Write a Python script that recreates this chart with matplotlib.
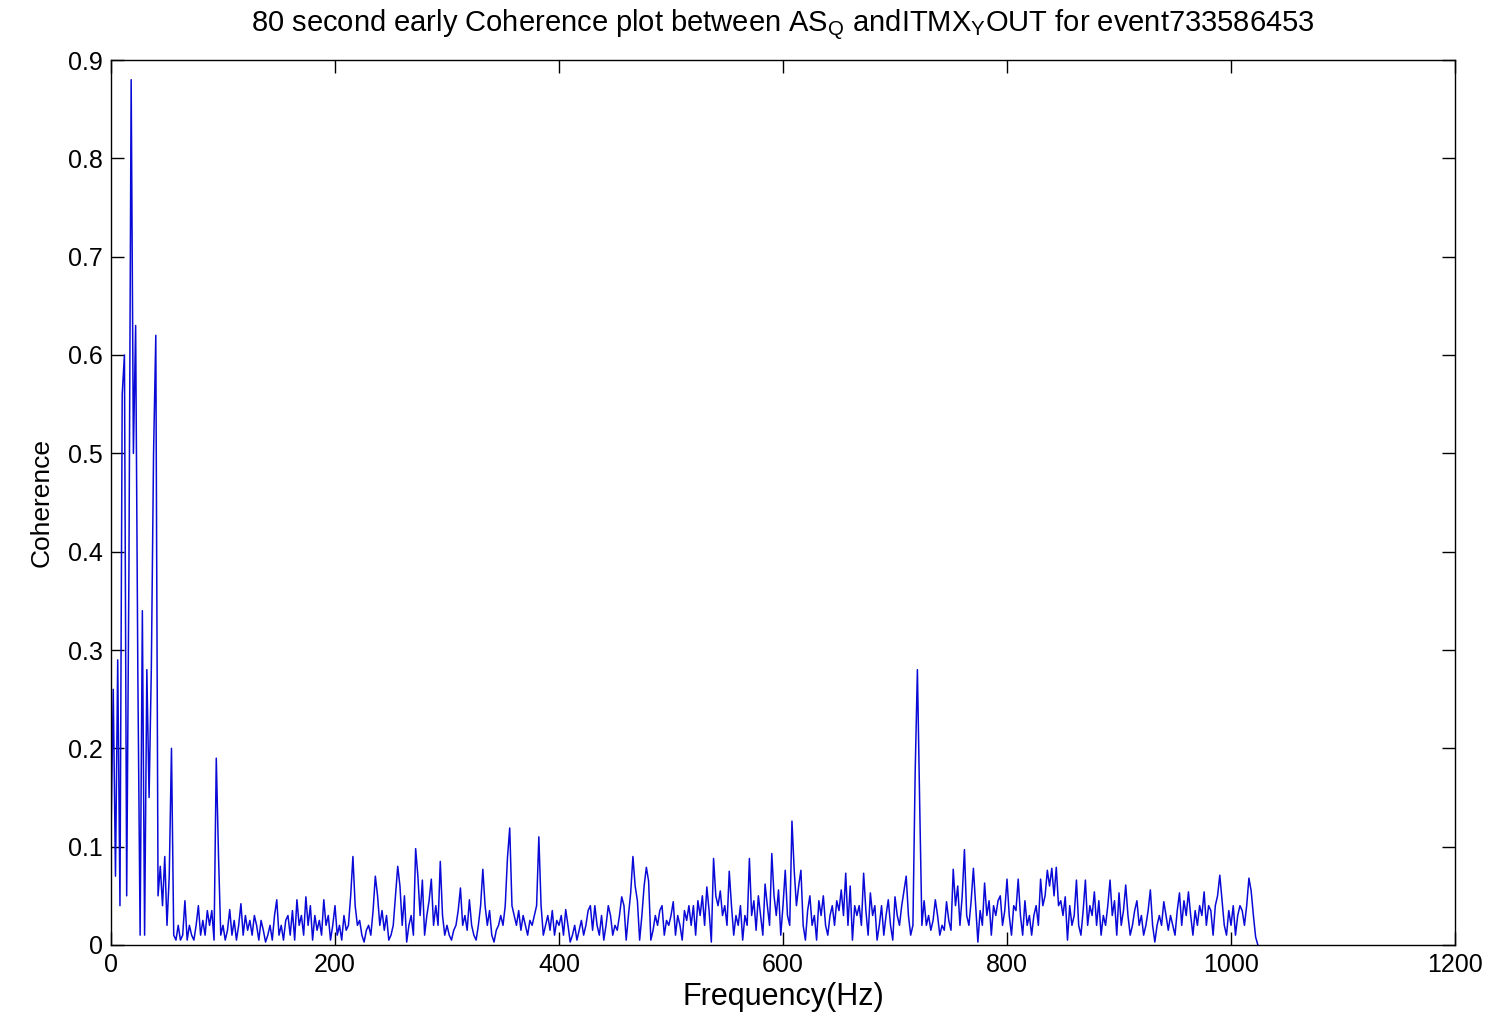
import numpy as np
import matplotlib
matplotlib.use("Agg")
import matplotlib.pyplot as plt

# coherence estimate on a 2 Hz grid, split into 100 Hz bands
band_000 = [0.11, 0.26, 0.07, 0.29, 0.04, 0.56, 0.60, 0.05, 0.38, 0.88,
            0.50, 0.63, 0.27, 0.01, 0.34, 0.01, 0.28, 0.15, 0.28, 0.50,
            0.62, 0.05, 0.08, 0.04, 0.09, 0.02, 0.07, 0.20, 0.01, 0.005,
            0.02, 0.005, 0.01, 0.045, 0.005, 0.02, 0.01, 0.005, 0.02, 0.04,
            0.01, 0.025, 0.01, 0.035, 0.02, 0.035, 0.005, 0.19, 0.09, 0.01]
band_100 = [0.02, 0.005, 0.015, 0.036, 0.01, 0.025, 0.005, 0.02, 0.042, 0.01,
            0.03, 0.015, 0.025, 0.01, 0.03, 0.02, 0.005, 0.025, 0.015, 0.003,
            0.01, 0.02, 0.005, 0.03, 0.046, 0.01, 0.02, 0.005, 0.025, 0.03,
            0.01, 0.035, 0.005, 0.046, 0.02, 0.03, 0.01, 0.049, 0.02, 0.04,
            0.005, 0.03, 0.015, 0.025, 0.01, 0.046, 0.02, 0.03, 0.005, 0.02]
band_200 = [0.04, 0.01, 0.02, 0.005, 0.03, 0.015, 0.02, 0.05, 0.09, 0.04,
            0.02, 0.025, 0.01, 0.003, 0.015, 0.02, 0.01, 0.035, 0.07, 0.05,
            0.02, 0.035, 0.015, 0.03, 0.005, 0.01, 0.02, 0.05, 0.08, 0.06,
            0.02, 0.05, 0.003, 0.02, 0.03, 0.01, 0.098, 0.07, 0.03, 0.066,
            0.01, 0.03, 0.045, 0.067, 0.02, 0.04, 0.02, 0.085, 0.03, 0.01]
band_300 = [0.02, 0.01, 0.005, 0.015, 0.02, 0.035, 0.058, 0.02, 0.03, 0.015,
            0.046, 0.02, 0.01, 0.005, 0.02, 0.04, 0.077, 0.04, 0.02, 0.035,
            0.01, 0.003, 0.015, 0.02, 0.03, 0.02, 0.04, 0.089, 0.119, 0.04,
            0.03, 0.02, 0.035, 0.015, 0.03, 0.02, 0.01, 0.025, 0.02, 0.03,
            0.04, 0.11, 0.04, 0.01, 0.02, 0.03, 0.015, 0.035, 0.01, 0.025]
band_400 = [0.02, 0.03, 0.01, 0.036, 0.02, 0.003, 0.01, 0.02, 0.005, 0.015,
            0.025, 0.01, 0.02, 0.035, 0.04, 0.015, 0.04, 0.02, 0.01, 0.03,
            0.005, 0.02, 0.04, 0.03, 0.01, 0.02, 0.015, 0.03, 0.049, 0.04,
            0.005, 0.03, 0.053, 0.09, 0.06, 0.045, 0.005, 0.03, 0.06, 0.079,
            0.065, 0.005, 0.015, 0.03, 0.02, 0.035, 0.04, 0.01, 0.025, 0.02]
band_500 = [0.03, 0.044, 0.01, 0.03, 0.02, 0.005, 0.035, 0.025, 0.04, 0.02,
            0.04, 0.01, 0.045, 0.03, 0.05, 0.02, 0.059, 0.035, 0.003, 0.088,
            0.05, 0.04, 0.055, 0.03, 0.04, 0.02, 0.075, 0.04, 0.01, 0.03,
            0.02, 0.04, 0.005, 0.03, 0.02, 0.088, 0.03, 0.045, 0.015, 0.05,
            0.03, 0.01, 0.062, 0.04, 0.02, 0.093, 0.05, 0.03, 0.056, 0.01]
band_600 = [0.04, 0.076, 0.03, 0.02, 0.126, 0.076, 0.04, 0.06, 0.076, 0.02,
            0.005, 0.035, 0.05, 0.02, 0.03, 0.005, 0.045, 0.03, 0.05, 0.02,
            0.01, 0.03, 0.04, 0.02, 0.045, 0.035, 0.056, 0.03, 0.073, 0.02,
            0.06, 0.005, 0.04, 0.03, 0.04, 0.02, 0.073, 0.035, 0.01, 0.053,
            0.03, 0.04, 0.005, 0.02, 0.04, 0.01, 0.03, 0.046, 0.02, 0.005]
band_700 = [0.049, 0.03, 0.02, 0.04, 0.055, 0.07, 0.03, 0.01, 0.02, 0.175,
            0.28, 0.146, 0.02, 0.045, 0.02, 0.03, 0.015, 0.025, 0.046, 0.03,
            0.01, 0.02, 0.015, 0.044, 0.025, 0.015, 0.077, 0.04, 0.06, 0.02,
            0.05, 0.097, 0.03, 0.02, 0.045, 0.078, 0.04, 0.003, 0.035, 0.02,
            0.063, 0.03, 0.045, 0.01, 0.04, 0.03, 0.045, 0.05, 0.02, 0.035]
band_800 = [0.067, 0.03, 0.01, 0.04, 0.035, 0.067, 0.03, 0.01, 0.045, 0.02,
            0.03, 0.01, 0.03, 0.04, 0.02, 0.067, 0.04, 0.05, 0.076, 0.06,
            0.078, 0.05, 0.079, 0.04, 0.045, 0.03, 0.049, 0.005, 0.04, 0.02,
            0.03, 0.066, 0.02, 0.01, 0.035, 0.066, 0.02, 0.04, 0.03, 0.054,
            0.02, 0.045, 0.01, 0.03, 0.02, 0.04, 0.066, 0.03, 0.045, 0.01]
band_900 = [0.053, 0.02, 0.035, 0.061, 0.03, 0.01, 0.02, 0.035, 0.045, 0.02,
            0.03, 0.01, 0.02, 0.035, 0.056, 0.02, 0.003, 0.02, 0.03, 0.02,
            0.044, 0.03, 0.015, 0.03, 0.02, 0.01, 0.035, 0.053, 0.02, 0.045,
            0.03, 0.054, 0.03, 0.01, 0.035, 0.02, 0.04, 0.03, 0.054, 0.02,
            0.04, 0.035, 0.01, 0.04, 0.05, 0.071, 0.045, 0.02, 0.01, 0.035]
band_1000 = [0.02, 0.04, 0.01, 0.03, 0.04, 0.035, 0.02, 0.04, 0.068, 0.055,
             0.03, 0.008, 0.0]

x_ticks = [0, 200, 400, 600, 800, 1000, 1200]
y_ticks = [0, 0.1, 0.2, 0.3, 0.4, 0.5, 0.6, 0.7, 0.8, 0.9]
y_labels = ["0", "0.1", "0.2", "0.3", "0.4", "0.5", "0.6", "0.7", "0.8", "0.9"]

coherence = np.concatenate([band_000, band_100, band_200, band_300, band_400,
                            band_500, band_600, band_700, band_800, band_900,
                            band_1000])
freq = np.arange(len(coherence)) * 2.0

plt.rcParams['font.family'] = ['Liberation Sans', 'DejaVu Sans']
plt.rcParams['mathtext.fontset'] = 'custom'
plt.rcParams['mathtext.rm'] = 'Liberation Sans'
plt.rcParams['mathtext.it'] = 'Liberation Sans'

fig = plt.figure(figsize=(14.92, 10.18), dpi=100)
ax = fig.add_axes([111 / 1492, 1 - 945 / 1018, 1344 / 1492, 885 / 1018])

ax.plot(freq, coherence, color='#0a0ad8', lw=1.1)

ax.set_xlim(0, 1200)
ax.set_ylim(0, 0.9)
ax.set_xticks(x_ticks)
ax.set_xticklabels([str(t) for t in x_ticks], fontsize=18)
ax.set_yticks(y_ticks)
ax.set_yticklabels(y_labels, fontsize=18)
ax.tick_params(direction='in', length=9.5, width=1.0, top=True, right=True, pad=6)
for s in ax.spines.values():
    s.set_linewidth(1.0)

ax.set_title(r"80 second early Coherence plot between AS$_\mathrm{Q}$ andITMX$_\mathrm{Y}$OUT for event733586453",
             fontsize=21, pad=20)
ax.set_xlabel("Frequency(Hz)", fontsize=22, labelpad=3)
ax.set_ylabel("Coherence", fontsize=19, labelpad=10)

fig.savefig("out.png", dpi=100)
